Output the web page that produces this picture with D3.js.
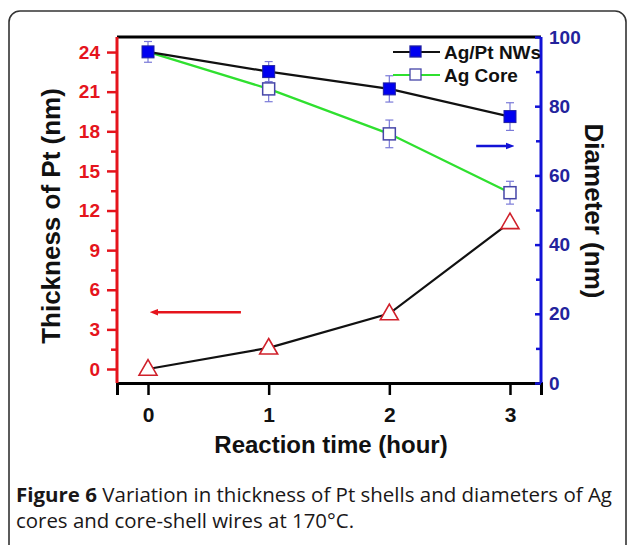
<!DOCTYPE html>
<html>
<head>
<meta charset="utf-8">
<script src="https://cdn.jsdelivr.net/npm/d3@7"></script>
<style>
  body { margin: 0; background: #fff; }
  svg { display: block; }
</style>
</head>
<body>
<svg id="svg1" width="629" height="545"></svg>
<script>
// data
var hours = [0, 1, 2, 3];
var nwDiameter = [95.7, 90, 85, 77];      // Ag/Pt NWs (right axis)
var nwErr = [3, 2.9, 3.8, 4];
var coreDiameter = [95.7, 85, 72, 55];    // Ag Core (right axis)
var coreErr = [0, 3.7, 4, 3.3];
var ptThickness = [0, 1.6, 4.2, 11.1];    // Pt shell (left axis)
var leftTicks = [0, 3, 6, 9, 12, 15, 18, 21, 24];
var rightTicks = [0, 20, 40, 60, 80, 100];
var legendNames = ['Ag/Pt NWs', 'Ag Core'];

var red = '#e5141c';
var blue = '#1212d6';
var darkBlue = '#23239c';

var svg = d3.select('svg');

// rounded frame
svg.append('rect')
    .attr('x', 9).attr('y', 11)
    .attr('width', 617).attr('height', 570)
    .attr('rx', 11)
    .attr('fill', 'none')
    .attr('stroke', '#333')
    .attr('stroke-width', 1.6);

var x = d3.scaleLinear().domain([-0.257, 3.257]).range([117, 541]);
var yL = d3.scaleLinear().domain([-1.06, 25.14]).range([383, 37]);
var yR = d3.scaleLinear().domain([0, 100]).range([383, 37]);

// frame top
svg.append('line').attr('x1', 117).attr('x2', 541).attr('y1', 37).attr('y2', 37)
    .attr('stroke', '#000').attr('stroke-width', 3);

// x axis
var xAxis = svg.append('g')
    .attr('transform', 'translate(0,383)')
    .call(d3.axisBottom(x).tickValues(hours).tickSize(12).tickPadding(12).tickFormat(d3.format('d')));
xAxis.select('.domain').attr('stroke', '#000').attr('stroke-width', 3);
xAxis.selectAll('.tick line').attr('stroke-width', 2.5);
xAxis.selectAll('text').attr('font-family', 'Liberation Sans, Arial, sans-serif')
    .attr('font-weight', 'bold').attr('font-size', 21).attr('fill', '#111');

// left axis (minor then major)
var leftMinor = svg.append('g').attr('transform', 'translate(117,0)')
    .call(d3.axisLeft(yL).tickValues(leftTicks.slice(0, -1).map(function(d) { return d + 1.5; }))
        .tickSize(6).tickFormat(''));
leftMinor.select('.domain').remove();
leftMinor.selectAll('.tick line').attr('stroke', red).attr('stroke-width', 2.5);

var leftAxis = svg.append('g').attr('transform', 'translate(117,0)')
    .call(d3.axisLeft(yL).tickValues(leftTicks).tickSize(10).tickPadding(7).tickSizeOuter(0));
leftAxis.select('.domain').attr('stroke', red).attr('stroke-width', 3)
    .attr('d', 'M0,383V37');
leftAxis.selectAll('.tick line').attr('stroke', red).attr('stroke-width', 2.5);
leftAxis.selectAll('text').attr('font-family', 'Liberation Sans, Arial, sans-serif')
    .attr('font-weight', 'bold').attr('font-size', 19).attr('fill', red);

// right axis (ticks point inward)
var rightMinor = svg.append('g').attr('transform', 'translate(541,0)')
    .call(d3.axisRight(yR).tickValues([10, 30, 50, 70, 90]).tickSize(-5).tickFormat(''));
rightMinor.select('.domain').remove();
rightMinor.selectAll('.tick line').attr('stroke', blue).attr('stroke-width', 2.5);

var rightAxis = svg.append('g').attr('transform', 'translate(541,0)')
    .call(d3.axisRight(yR).tickValues(rightTicks).tickSize(-6).tickPadding(8).tickSizeOuter(0));
rightAxis.select('.domain').attr('stroke', blue).attr('stroke-width', 3)
    .attr('d', 'M0,383V37');
rightAxis.selectAll('.tick line').attr('stroke', blue).attr('stroke-width', 2.5);
rightAxis.selectAll('text').attr('font-family', 'Liberation Sans, Arial, sans-serif')
    .attr('font-weight', 'bold').attr('font-size', 19).attr('fill', darkBlue);

// axis titles
svg.append('text')
    .attr('transform', 'translate(60,216) rotate(-90)')
    .attr('text-anchor', 'middle')
    .attr('font-family', 'Liberation Sans, Arial, sans-serif')
    .attr('font-weight', 'bold').attr('font-size', 26).attr('fill', '#111')
    .text('Thickness of Pt (nm)');

svg.append('text')
    .attr('transform', 'translate(585,211) rotate(90)')
    .attr('text-anchor', 'middle')
    .attr('font-family', 'Liberation Sans, Arial, sans-serif')
    .attr('font-weight', 'bold').attr('font-size', 26).attr('fill', '#111')
    .text('Diameter (nm)');

svg.append('text')
    .attr('x', 331).attr('y', 453)
    .attr('text-anchor', 'middle')
    .attr('font-family', 'Liberation Sans, Arial, sans-serif')
    .attr('font-weight', 'bold').attr('font-size', 24).attr('fill', '#111')
    .text('Reaction time (hour)');

// lines
var lineR = d3.line().x(function(d, i) { return x(hours[i]); }).y(function(d) { return yR(d); });
var lineL = d3.line().x(function(d, i) { return x(hours[i]); }).y(function(d) { return yL(d); });

svg.append('path').attr('d', lineR(coreDiameter))
    .attr('fill', 'none').attr('stroke', '#2fe02f').attr('stroke-width', 2.2);
svg.append('path').attr('d', lineR(nwDiameter))
    .attr('fill', 'none').attr('stroke', '#111').attr('stroke-width', 2.2);
svg.append('path').attr('d', lineL(ptThickness))
    .attr('fill', 'none').attr('stroke', '#111').attr('stroke-width', 2.2);

// error bars
function errorBars(vals, errs) {
    var g = svg.append('g');
    vals.forEach(function(v, i) {
        if (!errs[i]) return;
        var cx = x(hours[i]), y1 = yR(v - errs[i]), y2 = yR(v + errs[i]);
        g.append('line').attr('x1', cx).attr('x2', cx).attr('y1', y1).attr('y2', y2);
        g.append('line').attr('x1', cx - 4).attr('x2', cx + 4).attr('y1', y1).attr('y2', y1);
        g.append('line').attr('x1', cx - 4).attr('x2', cx + 4).attr('y1', y2).attr('y2', y2);
    });
    g.selectAll('line').attr('stroke', '#7a7ad8').attr('stroke-width', 1.2);
}
errorBars(coreDiameter, coreErr);
errorBars(nwDiameter, nwErr);

// markers
svg.selectAll('.core').data(coreDiameter.slice(1)).enter().append('rect')
    .attr('class', 'core')
    .attr('x', function(d, i) { return x(hours[i + 1]) - 6; })
    .attr('y', function(d) { return yR(d) - 6; })
    .attr('width', 12).attr('height', 12)
    .attr('fill', '#fff').attr('stroke', '#4646a8').attr('stroke-width', 1.5);

svg.selectAll('.nw').data(nwDiameter).enter().append('rect')
    .attr('class', 'nw')
    .attr('x', function(d, i) { return x(hours[i]) - 6; })
    .attr('y', function(d) { return yR(d) - 6; })
    .attr('width', 12).attr('height', 12)
    .attr('fill', '#0000f0').attr('stroke', '#2020a0').attr('stroke-width', 1);

var tri = d3.symbol().type(d3.symbolTriangle).size(140);
svg.selectAll('.pt').data(ptThickness).enter().append('path')
    .attr('class', 'pt')
    .attr('d', tri)
    .attr('transform', function(d, i) { return 'translate(' + x(hours[i]) + ',' + (yL(d) + 1) + ')'; })
    .attr('fill', '#fff').attr('stroke', '#d0202a').attr('stroke-width', 1.6);

// direction arrows
var defs = svg.append('defs');
[['arrRed', red], ['arrBlue', blue]].forEach(function(a) {
    defs.append('marker').attr('id', a[0])
        .attr('viewBox', '0 0 10 10').attr('refX', 5).attr('refY', 5)
        .attr('markerWidth', 3.5).attr('markerHeight', 3.5).attr('orient', 'auto')
        .append('path').attr('d', 'M0,1L10,5L0,9Z').attr('fill', a[1]);
});
svg.append('line')
    .attr('x1', x(0.77)).attr('x2', x(0.05)).attr('y1', yL(4.3)).attr('y2', yL(4.3))
    .attr('stroke', red).attr('stroke-width', 2.5).attr('marker-end', 'url(#arrRed)');
svg.append('line')
    .attr('x1', x(2.72)).attr('x2', x(3.0)).attr('y1', yR(68.5)).attr('y2', yR(68.5))
    .attr('stroke', blue).attr('stroke-width', 2.5).attr('marker-end', 'url(#arrBlue)');

// legend
var legend = svg.append('g').attr('transform', 'translate(393,52)');
legendNames.forEach(function(name, i) {
    var g = legend.append('g').attr('transform', 'translate(0,' + (i * 23) + ')');
    g.append('line').attr('x1', 0).attr('x2', 47).attr('y1', 0).attr('y2', 0)
        .attr('stroke', i === 0 ? '#111' : '#2fe02f').attr('stroke-width', 2.2);
    g.append('rect').attr('x', 17).attr('y', -6).attr('width', 11).attr('height', 11)
        .attr('fill', i === 0 ? '#0000f0' : '#fff')
        .attr('stroke', i === 0 ? '#2020a0' : '#4646a8').attr('stroke-width', 1.3);
    g.append('text').attr('x', 51).attr('y', 7)
        .attr('font-family', 'Liberation Sans, Arial, sans-serif')
        .attr('font-weight', 'bold').attr('font-size', 19).attr('fill', '#111')
        .text(name);
});

// caption
var cap = svg.append('text')
    .attr('font-family', 'Open Sans, Noto Sans, sans-serif')
    .attr('font-size', 20).attr('fill', '#1a1718');
var l1 = cap.append('tspan').attr('x', 16).attr('y', 502)
    .attr('textLength', 596).attr('lengthAdjust', 'spacingAndGlyphs');
l1.append('tspan').attr('font-weight', 'bold').text('Figure 6');
l1.append('tspan').text(' Variation in thickness of Pt shells and diameters of Ag');
cap.append('tspan').attr('x', 16).attr('y', 528)
    .attr('textLength', 338).attr('lengthAdjust', 'spacingAndGlyphs')
    .text('cores and core-shell wires at 170\u00B0C.');
</script>
</body>
</html>
